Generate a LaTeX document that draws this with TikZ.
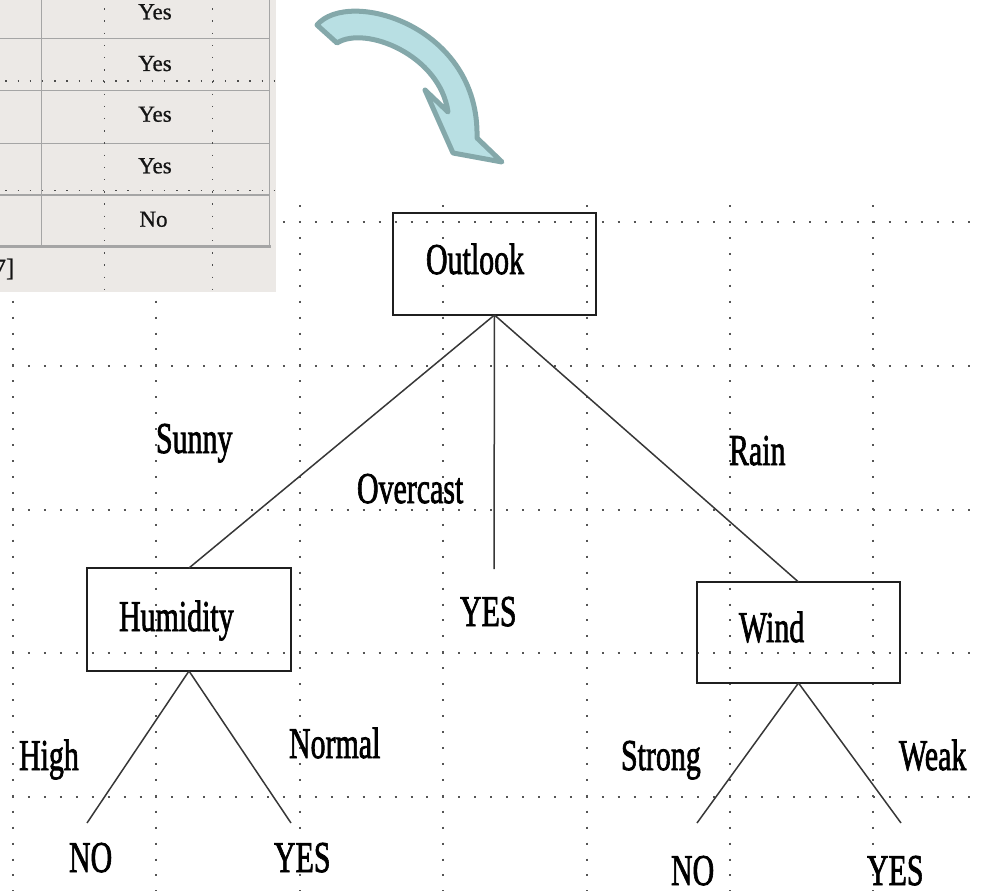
\documentclass[tikz,border=0pt]{standalone}
\usepackage{fontspec}
\setmainfont{Liberation Serif}
\newfontfamily\treeface{Liberation Serif}[FakeBold=2]
\newfontfamily\cellface{Liberation Serif}[FakeBold=0.8]
\definecolor{tablebg}{RGB}{236,233,230}
\definecolor{tablerule}{RGB}{165,165,165}
\definecolor{griddot}{RGB}{85,85,85}
\definecolor{arrowfill}{RGB}{184,223,227}
\definecolor{arrowedge}{RGB}{132,168,170}
\definecolor{inkline}{RGB}{55,55,55}
% condensed serif used for the tree labels
\newcommand{\treefont}{\treeface\fontsize{44}{48}\selectfont}
\newcommand{\cond}[1]{\scalebox{0.68}[1]{#1}}
\tikzset{
  treebox/.style={draw=black!88, line width=2.2pt, rectangle, inner sep=0pt, outer sep=0pt},
  treetext/.style={inner sep=0pt, outer sep=0pt, anchor=base west, font=\treefont},
  branch/.style={draw=inkline, line width=1.5pt},
  gridline/.style={draw=griddot, line width=2pt, dash pattern=on 2pt off 13.94pt},
  tabdots/.style={draw=black!70, line width=1.4pt, dash pattern=on 1.4pt off 10.8pt},
  tabrule/.style={draw=tablerule, line width=1.5pt},
  celltext/.style={inner sep=0pt, anchor=base, font=\cellface\fontsize{23}{26}\selectfont, text=black!92},
  bentarrow/.style={fill=arrowfill, draw=arrowedge, line width=5pt, line join=round}
}
\begin{document}
\begin{tikzpicture}[x=1pt,y=-1pt]
\useasboundingbox (0,0) rectangle (986,891);

% dotted background grid
\foreach \k in {0,...,6}
  \draw[gridline] ({13+143.4*\k},205) -- ({13+143.4*\k},891);
\foreach \j in {0,...,4}
  \draw[gridline] (12,{222+143.75*\j}) -- (971,{222+143.75*\j});

% table excerpt in the upper left corner
\fill[tablebg] (0,0) rectangle (276,292);
\foreach \yy in {38.7,90.7,143.3,195}
  \draw[tabrule] (0,\yy) -- (269.3,\yy);
\draw[tablerule, line width=2.6pt] (0,246.3) -- (270.5,246.3);
\draw[tabrule] (41.3,0) -- (41.3,246.3);
\draw[tabrule] (269.3,0) -- (269.3,247.5);
\foreach \xx in {104.3,212.3}
  \draw[tabdots] (\xx,-4) -- (\xx,292);
\foreach \yy in {81,190.7}
  \draw[tabdots] (5.3,\yy) -- (276,\yy);
\node[celltext] (c1) at (155,19.3) {Yes};
\node[celltext] (c2) at (155,71) {Yes};
\node[celltext] (c3) at (155,121.7) {Yes};
\node[celltext] (c4) at (155,173.3) {Yes};
\node[celltext] (c5) at (153.5,226.7) {No};
\node[celltext, anchor=base east, font=\cellface\fontsize{25}{28}\selectfont] (ref) at (14.5,276) {7]};

% curved block arrow
\draw[bentarrow] (317,25) .. controls (348,-12) and (480,25) .. (477,138)
  -- (502,162) -- (453,153) -- (425,90) -- (448,112)
  .. controls (440,55) and (365,25) .. (337,43) -- cycle;

% decision nodes
\node[treebox, minimum width=203pt, minimum height=102pt] (outlook) at (494.5,264) {};
\node[treebox, minimum width=204pt, minimum height=103pt] (humidity) at (189,619.5) {};
\node[treebox, minimum width=203pt, minimum height=101pt] (wind) at (798.5,632.5) {};
\node[treetext] (outlookt) at (426,274) {\cond{Outlook}};
\node[treetext] (humidityt) at (119,631) {\cond{Humidity}};
\node[treetext] (windt) at (739,642) {\cond{Wind}};

% free ends of the branches
\coordinate (ovend) at (494,569);
\coordinate (hno) at (87,823);
\coordinate (hyes) at (291,823);
\coordinate (wno) at (697,823);
\coordinate (wyes) at (901,823);

% branches
\draw[branch] (outlook.south) -- (humidity.north);
\draw[branch] (outlook.south) -- (ovend);
\draw[branch] (outlook.south) -- (wind.north);
\draw[branch] (humidity.south) -- (hno);
\draw[branch] (humidity.south) -- (hyes);
\draw[branch] (wind.south) -- (wno);
\draw[branch] (wind.south) -- (wyes);

% branch labels
\node[treetext] (sunny) at (156,453) {\cond{Sunny}};
\node[treetext] (overcast) at (357,503) {\cond{Overcast}};
\node[treetext] (rain) at (729,465) {\cond{Rain}};
\node[treetext] (high) at (19,770) {\cond{High}};
\node[treetext] (normal) at (289,758) {\cond{Normal}};
\node[treetext] (strong) at (621,770) {\cond{Strong}};
\node[treetext] (weak) at (899,770) {\cond{Weak}};

% leaves
\node[treetext] (yesmid) at (460,626) {\cond{YES}};
\node[treetext] (noleft) at (69,872) {\cond{NO}};
\node[treetext] (yesleft) at (274,872) {\cond{YES}};
\node[treetext] (noright) at (671,885) {\cond{NO}};
\node[treetext] (yesright) at (867,885) {\cond{YES}};
\end{tikzpicture}
\end{document}
